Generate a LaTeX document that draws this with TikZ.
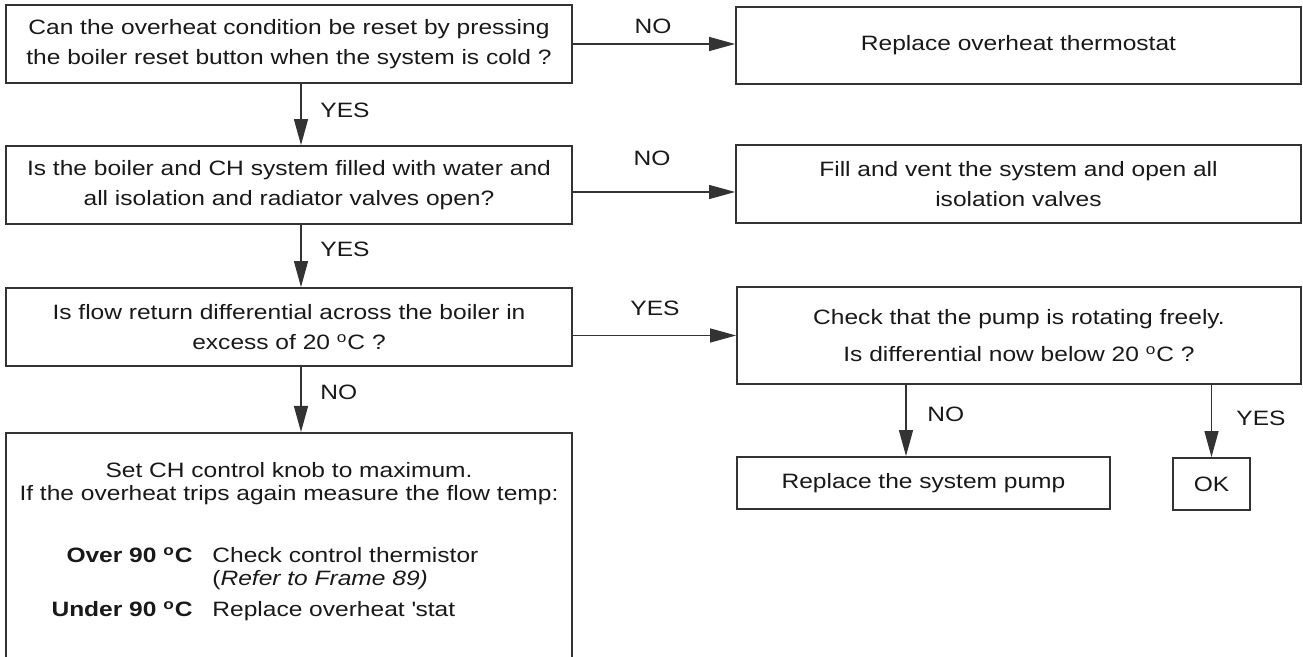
\documentclass[tikz,border=0pt]{standalone}
\usepackage{fontspec}
\setmainfont{Liberation Sans}[FakeStretch=1.18]
\usetikzlibrary{arrows.meta}

\begin{document}
\begin{tikzpicture}[x=0.5pt,y=-0.5pt,
    box/.style={draw=black!80, line width=0.9pt, inner sep=0pt, align=center, text=black!90, font=\fontsize{10.4}{15}\selectfont},
    flow/.style={draw=black!80, line width=0.65pt, -{Triangle[length=13pt,width=7pt]}},
    answer/.style={text=black!90, inner sep=0pt, font=\fontsize{10.4}{15}\selectfont},
    temp/.style={answer, font=\fontsize{10.4}{15}\selectfont\bfseries}]

\useasboundingbox (0,0) rectangle (1303,657);
\clip (0,0) rectangle (1303,657);

%QUESTIONS
\node[box, minimum width=283pt, minimum height=39pt] (reset) at (289,44) {Can the overheat condition be reset by pressing\\the boiler reset button when the system is cold ?};
\node[box, minimum width=283pt, minimum height=39pt] (filled) at (289,185) {Is the boiler and CH system filled with water and\\all isolation and radiator valves open?};
\node[box, minimum width=283pt, minimum height=39pt] (diff) at (289,327) {Is flow return differential across the boiler in\\excess of 20 \textsuperscript{o}C ?};
\node[box, minimum width=283pt, minimum height=140pt, anchor=north] (knob) at (289,432) {};

%ACTIONS
\node[box, minimum width=282.5pt, minimum height=38.5pt] (thermo) at (1018.5,45.5) {Replace overheat thermostat};
\node[box, minimum width=282.5pt, minimum height=39pt] (vent) at (1018.5,184) {Fill and vent the system and open all\\isolation valves};
\node[box, minimum width=282pt, minimum height=48.5pt, font=\fontsize{10.4}{18.5}\selectfont] (pump) at (1019,335.5) {Check that the pump is rotating freely.\\Is differential now below 20 \textsuperscript{o}C ?};
\node[box, minimum width=186.5pt, minimum height=26pt] (newpump) at (923.5,483) {Replace the system pump};
\node[box, minimum width=38.5pt, minimum height=26pt] (ok) at (1211.5,484) {OK};

%KNOB BOX TEXT
\node[answer, anchor=base] (setline) at (289,478) {Set CH control knob to maximum.};
\node[answer, anchor=base] (tripline) at (289,501) {If the overheat trips again measure the flow temp:};
\node[temp, anchor=base east] (over) at (193,563) {Over 90 \textsuperscript{o}C};
\node[answer, anchor=base west] (overtxt) at (212,563) {Check control thermistor};
\node[answer, anchor=base west] (refer) at (212,586) {(\textit{Refer to Frame 89)}};
\node[temp, anchor=base east] (under) at (193,617) {Under 90 \textsuperscript{o}C};
\node[answer, anchor=base west] (undertxt) at (212,617) {Replace overheat \textquotesingle stat};

%ANSWERS
\node[answer, anchor=base] (noA) at (653,34) {NO};
\node[answer, anchor=base] (noB) at (652,166) {NO};
\node[answer, anchor=base] (yesC) at (655,316) {YES};
\node[answer, anchor=base west] (yesA) at (320,118) {YES};
\node[answer, anchor=base west] (yesB) at (320,257) {YES};
\node[answer, anchor=base west] (noC) at (320,400) {NO};
\node[answer, anchor=base west] (noD) at (927,422) {NO};
\node[answer, anchor=base west] (yesD) at (1236,426) {YES};

%ARROWS
\draw[flow] (reset.east) -- (reset.east -| thermo.west);
\draw[flow] ([yshift=-3.5pt]filled.east) -- ([yshift=-3.5pt]filled.east -| vent.west);
\draw[flow] (diff.east |- pump.west) -- (pump.west);
\draw[flow] ([xshift=6pt]reset.south) -- ([xshift=6pt]filled.north);
\draw[flow] ([xshift=6pt]filled.south) -- ([xshift=6pt]diff.north);
\draw[flow] ([xshift=6pt]diff.south) -- ([xshift=6pt]knob.north);
\draw[flow] ([xshift=-8.75pt]newpump.north |- pump.south) -- ([xshift=-8.75pt]newpump.north);
\draw[flow] (ok.north |- pump.south) -- (ok.north);

\end{tikzpicture}
\end{document}
